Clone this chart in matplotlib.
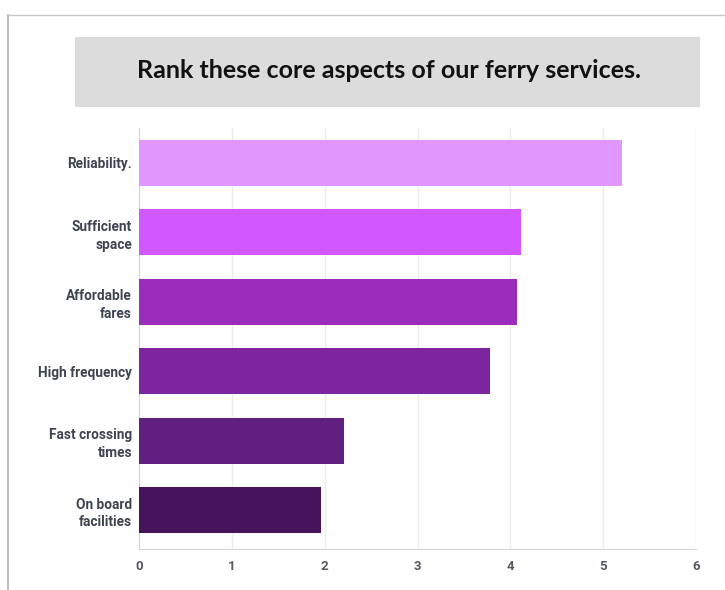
import matplotlib
matplotlib.use("Agg")
import matplotlib.pyplot as plt
from matplotlib.patches import Rectangle
from matplotlib.lines import Line2D

# ── Data ──────────────────────────────────────────────────────────
categories = ["Reliability.", "Sufficient\nspace", "Affordable\nfares",
              "High frequency", "Fast crossing\ntimes", "On board\nfacilities"]
scores = [5.2, 4.11, 4.07, 3.78, 2.21, 1.96]
bar_colors = ["#e197fe", "#d158fd", "#9b2dbd", "#7c259e", "#611f80", "#45145a"]
x_ticks = [0, 1, 2, 3, 4, 5, 6]
title = "Rank these core aspects of our ferry services."

W, H = 725, 590
fig = plt.figure(figsize=(W / 100, H / 100), dpi=100)

# slide frame lines (left + top)
fig.add_artist(Line2D([8 / W, 8 / W], [0, 1 - 15 / H], color="#b0b0b0", lw=1.2))
fig.add_artist(Line2D([8 / W, 1], [1 - 15 / H, 1 - 15 / H], color="#c8c8c8", lw=1.0))

# title box
fig.add_artist(Rectangle((75 / W, 1 - 107 / H), 625 / W, 70 / H,
                         transform=fig.transFigure, facecolor="#dcdcdc",
                         edgecolor="none"))
fig.text(389 / W, 1 - 71 / H, title, ha="center", va="center",
         fontsize=18, fontweight="bold", family="Lato", color="#111111")

# plot area
ax = fig.add_axes([139 / W, 1 - 549 / H, (696 - 139) / W, (549 - 128) / H])
ypos = list(range(len(categories)))
ax.barh(ypos, scores, height=0.66, color=bar_colors, zorder=3)

ax.set_xlim(0, 6)
ax.set_ylim(5.56, -0.5)
ax.set_xticks(x_ticks)
ax.set_yticks(ypos)
ax.set_yticklabels(categories, fontsize=9.8, fontweight="bold",
                   family="Roboto", color="#3d4450", linespacing=1.35)
ax.set_xticklabels([str(t) for t in x_ticks], fontsize=9.5, fontweight="bold",
                   family="Roboto", color="#555a60")
ax.tick_params(axis="y", length=0, pad=5)
ax.tick_params(axis="x", length=0, pad=8)

ax.grid(axis="x", color="#ececec", lw=1.0, zorder=0)
for side in ["top", "right"]:
    ax.spines[side].set_visible(False)
ax.spines["left"].set_color("#d6d6d6")
ax.spines["bottom"].set_color("#d6d6d6")

fig.savefig("out.png", dpi=100)
